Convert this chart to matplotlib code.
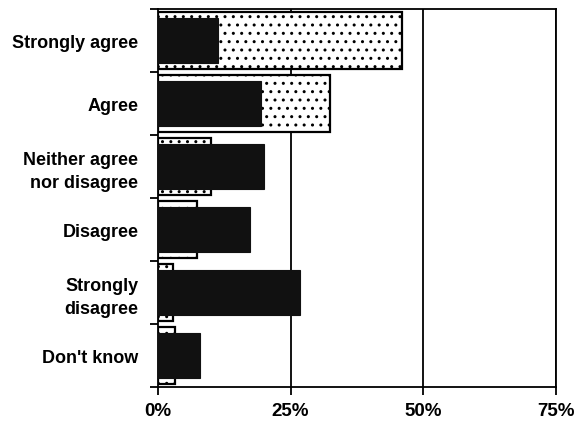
import matplotlib
matplotlib.use("Agg")
import matplotlib.pyplot as plt
from matplotlib.ticker import FixedLocator, NullFormatter

categories = ["Strongly agree", "Agree", "Neither agree\nnor disagree", "Disagree",
              "Strongly\ndisagree", "Don't know"]
back_values = [46, 32.4, 10, 7.3, 2.8, 3.2]     # light dotted series
front_values = [11.3, 19.4, 20, 17.3, 26.7, 7.9]  # dark series
xticks = [0, 25, 50, 75]
xtick_labels = ["0%", "25%", "50%", "75%"]

plt.rcParams['font.family'] = ['Liberation Sans', 'DejaVu Sans']
plt.rcParams['hatch.linewidth'] = 1.0

fig = plt.figure(figsize=(5.78, 4.31), dpi=100)
ax = fig.add_axes([0.273, 0.0998, 0.689, 0.877])

y = list(range(len(categories)))
ax.barh(y, back_values, height=0.9, color='white', edgecolor='black',
        linewidth=1.6, hatch='..', zorder=2)
ax.barh(y, front_values, height=0.7, color='#111111', edgecolor='#111111',
        linewidth=0.8, zorder=3)

ax.set_xlim(0, 75)
ax.set_ylim(len(categories) - 0.5, -0.5)
for g in [25, 50, 75]:
    ax.axvline(g, color='black', linewidth=1.3, zorder=1)

ax.set_xticks(xticks)
ax.set_xticklabels(xtick_labels, fontsize=13.5, fontweight='bold')
ax.set_yticks(y)
ax.set_yticklabels(categories, fontsize=13, fontweight='bold', linespacing=1.45)
ax.tick_params(axis='y', which='major', length=0, pad=14)
ax.yaxis.set_minor_locator(FixedLocator([i - 0.5 for i in range(len(categories) + 1)]))
ax.yaxis.set_minor_formatter(NullFormatter())
ax.tick_params(axis='y', which='minor', length=6, width=1.3, direction='out')
ax.tick_params(axis='x', length=6, width=1.3, direction='out', pad=5)
for s in ax.spines.values():
    s.set_linewidth(1.3)

fig.savefig("out.png", dpi=100)
